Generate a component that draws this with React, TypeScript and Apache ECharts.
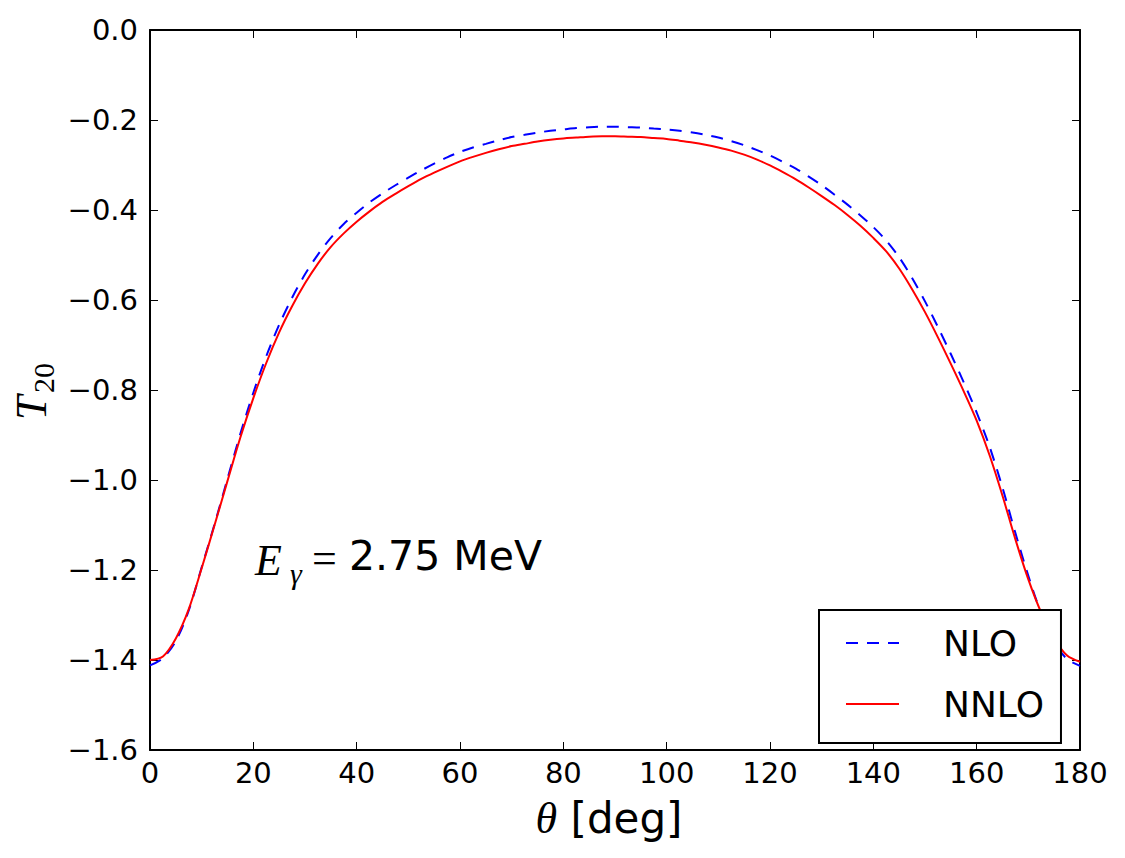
import React, { useEffect, useRef } from "react";
import * as echarts from "echarts";

// Scattering angle in degrees
const theta = [
  0, 2.5, 5, 7.5, 10, 12.5, 15, 17.5, 20, 22.5, 25, 27.5, 30, 32.5, 35, 37.5,
  40, 42.5, 45, 47.5, 50, 52.5, 55, 57.5, 60, 62.5, 65, 67.5, 70, 72.5, 75, 77.5,
  80, 82.5, 85, 87.5, 90, 92.5, 95, 97.5, 100, 102.5, 105, 107.5, 110, 112.5,
  115, 117.5, 120, 122.5, 125, 127.5, 130, 132.5, 135, 137.5, 140, 142.5, 145,
  147.5, 150, 152.5, 155, 157.5, 160, 162.5, 165, 167.5, 170, 172.5, 175, 177.5,
  180,
];

// Tensor analysing power T20 at NLO
const nlo = [
  -1.412, -1.396, -1.358, -1.29, -1.194, -1.098, -0.997, -0.897, -0.806, -0.725,
  -0.655, -0.595, -0.543, -0.499, -0.462, -0.431,
  -0.406, -0.383, -0.363, -0.345, -0.328, -0.312, -0.297, -0.283, -0.271, -0.261,
  -0.253, -0.245, -0.238, -0.233, -0.228, -0.224, -0.221, -0.218, -0.216, -0.215,
  -0.215, -0.216, -0.217, -0.219, -0.221, -0.224, -0.228, -0.233, -0.239, -0.247,
  -0.256, -0.267, -0.279, -0.293, -0.308, -0.326, -0.345, -0.366, -0.388,
  -0.412, -0.438, -0.468, -0.505, -0.551, -0.603, -0.66, -0.72, -0.783, -0.85,
  -0.926, -1.017, -1.118, -1.213, -1.297, -1.36, -1.398, -1.413,
];

// Tensor analysing power T20 at NNLO
const nnlo = [
  -1.4, -1.392, -1.352, -1.287, -1.196, -1.1, -1.002, -0.905, -0.818, -0.74,
  -0.672, -0.614, -0.563, -0.519, -0.482, -0.452,
  -0.426, -0.403, -0.382, -0.364, -0.347, -0.331, -0.317, -0.304, -0.292, -0.282,
  -0.273, -0.265, -0.258, -0.253, -0.248, -0.244, -0.241, -0.239, -0.237, -0.236,
  -0.236, -0.237, -0.238, -0.24, -0.242, -0.246, -0.25, -0.255, -0.261, -0.268,
  -0.277, -0.288, -0.301, -0.316, -0.332, -0.35, -0.369, -0.389, -0.411,
  -0.435, -0.462, -0.492, -0.53, -0.576, -0.627, -0.683, -0.742, -0.803, -0.868,
  -0.945, -1.035, -1.132, -1.221, -1.295, -1.352, -1.39, -1.404,
];

const seriesNames = ["NLO", "NNLO"];
const xRange = { min: 0, max: 180, interval: 20 };
const yRange = { min: -1.6, max: 0, interval: 0.2 };

const SANS = "DejaVu Sans";
const SERIF = "Liberation Serif";

const fmtY = (v: number) => {
  if (Math.abs(v) < 1e-9) return "0.0";
  return v.toFixed(1).replace("-", "\u2212");
};

export default function App() {
  const ref = useRef<HTMLDivElement>(null);

  useEffect(() => {
    if (!ref.current) return;
    const chart = echarts.init(ref.current, undefined, { renderer: "svg" });

    const frameLine = { show: true, onZero: false, lineStyle: { color: "#000", width: 2 } };
    const tick = { show: true, inside: true, length: 8, lineStyle: { color: "#000", width: 1 } };

    chart.setOption({
      animation: false,
      backgroundColor: "#fff",
      grid: { left: 150, right: 45, top: 30, bottom: 108, containLabel: false },
      xAxis: [
        {
          type: "value",
          ...xRange,
          position: "bottom",
          axisLine: frameLine,
          axisTick: tick,
          splitLine: { show: false },
          axisLabel: {
            color: "#000",
            fontFamily: SANS,
            fontSize: 29,
            margin: 8,
          },
        },
        {
          type: "value",
          ...xRange,
          position: "top",
          axisLine: frameLine,
          axisTick: tick,
          splitLine: { show: false },
          axisLabel: { show: false },
        },
      ],
      yAxis: [
        {
          type: "value",
          ...yRange,
          position: "left",
          axisLine: frameLine,
          axisTick: tick,
          splitLine: { show: false },
          axisLabel: {
            color: "#000",
            fontFamily: SANS,
            fontSize: 29,
            margin: 12,
            formatter: fmtY,
          },
        },
        {
          type: "value",
          ...yRange,
          position: "right",
          axisLine: frameLine,
          axisTick: tick,
          splitLine: { show: false },
          axisLabel: { show: false },
        },
      ],
      legend: {
        orient: "vertical",
        left: 819,
        top: 610,
        padding: [15, 17, 21, 26],
        itemWidth: 53,
        itemHeight: 30,
        itemGap: 25,
        borderColor: "#000",
        borderWidth: 2,
        borderRadius: 0,
        backgroundColor: "#fff",
        z: 10,
        data: seriesNames,
        itemStyle: { opacity: 0 },
        textStyle: {
          color: "#000",
          fontFamily: SANS,
          fontSize: 36,
          padding: [0, 0, 0, 39],
        },
      },
      series: [
        {
          name: seriesNames[0],
          type: "line",
          data: theta.map((t, i) => [t, nlo[i]]),
          symbol: "none",
          showSymbol: false,
          smooth: 0.3,
          lineStyle: { color: "#0000ff", width: 2, type: [12, 9] },
          itemStyle: { color: "#0000ff" },
          z: 2,
        },
        {
          name: seriesNames[1],
          type: "line",
          data: theta.map((t, i) => [t, nnlo[i]]),
          symbol: "none",
          showSymbol: false,
          smooth: 0.3,
          lineStyle: { color: "#ff0000", width: 2 },
          itemStyle: { color: "#ff0000" },
          z: 3,
        },
      ],
      graphic: [
        // energy annotation
        {
          type: "text",
          left: 255,
          top: 538,
          style: {
            text: "E",
            fontFamily: SERIF,
            fontStyle: "italic",
            fontSize: 44,
            fill: "#000",
          },
        },
        {
          type: "text",
          left: 290,
          top: 558,
          style: {
            text: "\u03b3",
            fontFamily: SERIF,
            fontStyle: "italic",
            fontSize: 30,
            fill: "#000",
          },
        },
        {
          type: "text",
          left: 312,
          top: 536,
          style: {
            text: "=",
            fontFamily: SERIF,
            fontSize: 44,
            fill: "#000",
          },
        },
        {
          type: "text",
          left: 349,
          top: 535,
          style: {
            text: "2.75 MeV",
            fontFamily: SANS,
            fontSize: 41,
            fill: "#000",
          },
        },
        // x-axis title
        {
          type: "text",
          x: 609,
          y: 818,
          style: {
            text: "{th|\u03b8}{n|\u00a0[deg]}",
            align: "center",
            verticalAlign: "middle",
            rich: {
              th: { fontFamily: SERIF, fontStyle: "italic", fontSize: 44, fill: "#000" },
              n: { fontFamily: SANS, fontSize: 42, fill: "#000" },
            },
          },
        },
        // y-axis title, rotated
        {
          type: "group",
          x: 31,
          y: 420,
          rotation: Math.PI / 2,
          children: [
            {
              type: "text",
              x: 0,
              y: 0,
              style: {
                text: "T",
                fontFamily: SERIF,
                fontStyle: "italic",
                fontSize: 44,
                align: "left",
                verticalAlign: "middle",
                fill: "#000",
              },
            },
            {
              type: "text",
              x: 27,
              y: 12,
              style: {
                text: "20",
                fontFamily: SERIF,
                fontSize: 30,
                align: "left",
                verticalAlign: "middle",
                fill: "#000",
              },
            },
          ],
        },
      ],
    });

    return () => chart.dispose();
  }, []);

  return (
    <div
      ref={ref}
      style={{ position: "absolute", left: 0, top: 0, width: 1125, height: 858 }}
    />
  );
}
